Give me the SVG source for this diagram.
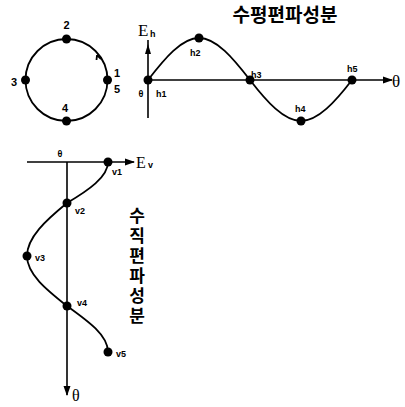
<svg xmlns="http://www.w3.org/2000/svg" width="405" height="407" viewBox="0 0 405 407">
<defs>
<style>
.ln{fill:none;stroke:#000;stroke-width:1.8}
.ax{fill:none;stroke:#000;stroke-width:1.6}
.dot{fill:#000}
.lb{font-family:"Liberation Sans",Arial,sans-serif;font-weight:bold;font-size:9px;fill:#000}
.nb{font-family:"Liberation Sans",Arial,sans-serif;font-weight:bold;font-size:11px;fill:#000}
.ax-t{font-family:"Liberation Serif","Times New Roman",serif;fill:#000}
.kr{font-family:"Noto Sans CJK KR","Noto Sans CJK SC",sans-serif;font-weight:bold;fill:#000}
.krv{font-family:"Noto Sans CJK KR","Noto Sans CJK SC",sans-serif;font-weight:bold;font-size:17px;fill:#000;writing-mode:vertical-rl;letter-spacing:3px}
</style>
<marker id="arr" markerWidth="10" markerHeight="8" refX="9" refY="4" orient="auto" markerUnits="userSpaceOnUse">
<path d="M0,0.5 L10,4 L0,7.5 Z" fill="#000"/>
</marker>
</defs>
<rect width="405" height="407" fill="#fff"/>

<g id="connectors">
<circle class="ln" cx="66.5" cy="80" r="41"/>
<path d="M97,55 L101,59 M97,55 L96.5,60" class="ln" stroke-width="1.5"/>
<line class="ax" x1="148" y1="118" x2="148" y2="40"/>
<path d="M148,44 L145,54 L151,54 Z" fill="#000"/>
<line class="ax" x1="148" y1="80" x2="392" y2="80" marker-end="url(#arr)"/>
<path class="ln" d="M148,80 C164.8,58.2 181.6,38 199,38 C216.4,38 233.2,58.2 250,80 C266.8,101.8 284,121 301,121 C318,121 335.2,101.8 352,80"/>
<line class="ax" x1="27" y1="162" x2="134" y2="162" marker-end="url(#arr)"/>
<line class="ax" x1="67" y1="162" x2="67" y2="395" marker-end="url(#arr)"/>
<path class="ln" d="M108,162 C108,177 88.3,190.5 67,203 C46.2,220 27,237.3 27,256 C27,274 46.2,289.5 67,306 C88.3,321.2 108,335.4 108,352"/>
</g>

<g id="circle-points">
<circle class="dot" cx="66.5" cy="39" r="4.5"/>
<circle class="dot" cx="66.5" cy="121" r="4.5"/>
<circle class="dot" cx="25.5" cy="80" r="4.5"/>
<circle class="dot" cx="107.5" cy="80" r="4.5"/>
<text class="nb" x="66.5" y="29" text-anchor="middle">2</text>
<text class="nb" x="14" y="86" text-anchor="middle">3</text>
<text class="nb" x="117" y="77" text-anchor="middle">1</text>
<text class="nb" x="117" y="93" text-anchor="middle">5</text>
<text class="nb" x="65" y="112" text-anchor="middle">4</text>
</g>

<g id="horizontal-component">
<text class="kr" x="285" y="22" font-size="19" text-anchor="middle">수평편파성분</text>
<text class="ax-t" x="138" y="36" font-size="17">E</text>
<text class="lb" x="150" y="37" font-size="8">h</text>
<text class="ax-t" x="392" y="87" font-size="17">θ</text>
<text class="lb" x="141" y="97" text-anchor="middle">θ</text>
<circle class="dot" cx="148" cy="80" r="4.5"/>
<circle class="dot" cx="199" cy="38" r="4.5"/>
<circle class="dot" cx="250" cy="80" r="4.5"/>
<circle class="dot" cx="301" cy="121" r="4.5"/>
<circle class="dot" cx="352" cy="80" r="4.5"/>
<text class="lb" x="156" y="97">h1</text>
<text class="lb" x="190" y="56">h2</text>
<text class="lb" x="251" y="78">h3</text>
<text class="lb" x="295" y="112">h4</text>
<text class="lb" x="347" y="72">h5</text>
</g>

<g id="vertical-component">
<text class="krv" x="137" y="207">수직편파성분</text>
<text class="ax-t" x="136" y="168" font-size="16">E</text>
<text class="lb" x="148" y="168">v</text>
<text class="ax-t" x="72" y="401" font-size="16">θ</text>
<text class="lb" x="60" y="157" text-anchor="middle">θ</text>
<circle class="dot" cx="108" cy="162" r="4.5"/>
<circle class="dot" cx="67" cy="203" r="4.5"/>
<circle class="dot" cx="27" cy="256" r="4.5"/>
<circle class="dot" cx="67" cy="306" r="4.5"/>
<circle class="dot" cx="108" cy="352" r="4.5"/>
<text class="lb" x="112" y="175">v1</text>
<text class="lb" x="75" y="214">v2</text>
<text class="lb" x="35" y="261">v3</text>
<text class="lb" x="77" y="306">v4</text>
<text class="lb" x="116" y="357">v5</text>
</g>
</svg>
